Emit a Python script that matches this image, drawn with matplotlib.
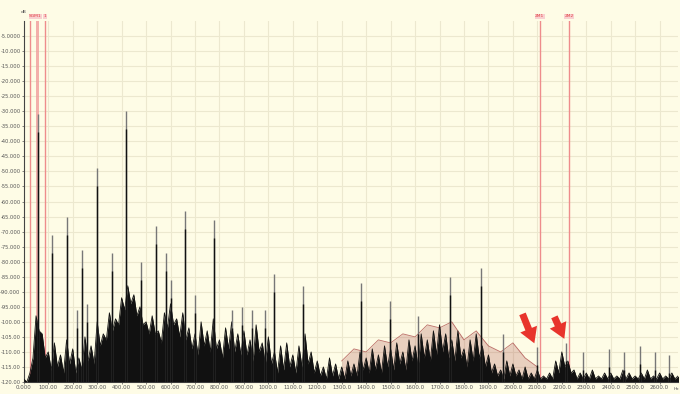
# Spectrum plot with marker lines and arrows

import numpy as np
import matplotlib.pyplot as plt

# noise floor tops (every 25 Hz)
noise_f = np.arange(0, 2700, 25)
noise_db = [
    -119, -117, -98, -104,
    -110, -107, -111, -106,
    -109, -112, -105, -108,
    -100, -104, -97, -99,
    -92, -88, -91, -95,
    -100, -98, -103, -97,
    -94, -99, -97, -102,
    -104, -100, -103, -99,
    -106, -102, -100, -104,
    -103, -106, -101, -107,
    -105, -110, -108, -107,
    -111, -108, -104, -110,
    -113, -115, -112, -114,
    -115, -113, -114, -110,
    -112, -109, -111, -108,
    -109, -107, -110, -106,
    -108, -104, -106, -103,
    -101, -104, -106, -103,
    -109, -106, -104, -108,
    -111, -114, -116, -113,
    -114, -116, -115, -117,
    -116, -118, -117, -113,
    -110, -113, -116, -117,
    -117, -116, -118, -117,
    -117, -118, -116, -117,
    -118, -117, -116, -118,
    -117, -118, -117, -118,
]
# noise floor valleys, half way between the tops
valley_f = noise_f + 12.5
valley_db = [
    -120, -112, -103, -112,
    -116, -115, -117, -114,
    -117, -116, -113, -114,
    -108, -106, -103, -101,
    -96, -94, -98, -101,
    -104, -104, -107, -102,
    -101, -105, -106, -109,
    -111, -108, -110, -109,
    -112, -109, -110, -111,
    -111, -113, -110, -114,
    -114, -117, -116, -115,
    -117, -115, -114, -117,
    -118, -119, -118, -119,
    -119, -118, -118, -116,
    -117, -116, -117, -115,
    -116, -114, -116, -113,
    -115, -112, -113, -111,
    -110, -112, -113, -112,
    -115, -113, -112, -115,
    -117, -118, -119, -118,
    -118, -119, -119, -119,
    -119, -119, -119, -117,
    -115, -117, -119, -119,
    -119, -119, -119, -119,
    -119, -119, -119, -119,
    -119, -119, -119, -119,
    -119, -119, -119, -119,
]

# second trace (red) visible above the black one
red_f = [1300, 1350, 1400, 1450, 1500, 1550, 1600, 1650, 1700, 1750, 1800, 1850, 1900, 1950, 2000, 2050, 2100]
red_db = [-113, -109, -110, -106, -107, -104, -105, -101, -102, -100, -106, -103, -108, -110, -107, -112, -115]

# discrete peaks (frequency, level)
peak_f = [57, 115, 178, 217, 237, 258, 298, 360, 417, 478, 540, 580, 601, 658, 699,
          777, 850, 893, 935, 985, 1022, 1141, 1378, 1497, 1612, 1742, 1869, 1960,
          2098, 2217, 2285, 2395, 2455, 2520, 2580, 2640]
peak_db = [-31, -71, -65, -96, -76, -94, -49, -77, -30, -80, -68, -77, -86, -63, -91,
           -66, -96, -95, -96, -96, -84, -88, -87, -93, -98, -85, -82, -104,
           -108.5, -107, -110, -109, -110, -108, -110, -111]

# marker lines
marker_f = [25, 86, 2110, 2230]
marker_labels = ['', '1', '2M1', '2M2']

x_ticks = np.arange(0, 2700, 100)
y_ticks = np.arange(-5, -121, -5)

bg = '#FEFCE6'
fig = plt.figure(figsize=(6.8, 3.94), dpi=100, facecolor=bg)
ax = fig.add_axes([0.035, 0.0305, 0.962, 0.916], facecolor=bg)

ax.set_xlim(0, 2675)
ax.set_ylim(-120, 0)

# grid
ax.set_xticks(x_ticks)
ax.set_yticks(y_ticks)
ax.grid(True, color='#ECE8CF', linewidth=0.8)
ax.set_axisbelow(True)

# thick marker band around the first group
ax.axvspan(50, 64, color='#F19C9C', alpha=0.8, lw=0)
for f, lab in zip(marker_f, marker_labels):
    ax.axvline(f, color='#EE8C8C', linewidth=1.0, zorder=1)
    if lab:
        ax.text(f, 1.0, lab, color='#E04040', fontsize=3.2, ha='center', va='bottom',
                bbox=dict(facecolor='#F9D0D0', edgecolor='none', pad=0.4))
ax.text(48, 1.0, 'SGM1', color='#E04040', fontsize=3.2, ha='center', va='bottom',
        bbox=dict(facecolor='#F9D0D0', edgecolor='none', pad=0.4))

# noise: interleave tops and valleys
nf = np.ravel(np.column_stack([noise_f, valley_f]))
nd = np.ravel(np.column_stack([noise_db, valley_db]))
ax.fill_between(red_f, -120, red_db, color='#9B3030', alpha=0.22, lw=0, zorder=2)
ax.plot(red_f, red_db, color='#A03535', lw=0.6, alpha=0.7, zorder=2)
ax.fill_between(nf, -120, nd, color='#111111', lw=0, zorder=3)
ax.plot(nf, nd, color='#111111', lw=0.6, zorder=3)

# peaks
ax.vlines(peak_f, -120, peak_db, color='#777777', linewidth=1.0, zorder=4)
ax.vlines(peak_f, -120, np.array(peak_db) - 6, color='#111111', linewidth=1.0, zorder=4)

# arrows
arrow_style = 'simple,head_width=1.3,head_length=1.1,tail_width=0.5'
ax.annotate('', xy=(2092, -108), xytext=(2035, -96.5),
            arrowprops=dict(arrowstyle=arrow_style, color='#E8342C', lw=0), zorder=6)
ax.annotate('', xy=(2215, -106.5), xytext=(2165, -97.5),
            arrowprops=dict(arrowstyle=arrow_style, color='#E8342C', lw=0), zorder=6)

# tick labels
def fmt(v):
    s = f'{v:.4f}' if abs(v) < 10 else (f'{v:.3f}' if abs(v) < 100 else f'{v:.2f}')
    return s
ax.set_yticklabels([fmt(v) for v in y_ticks])
ax.set_xticklabels(['0.000'] + [f'{v:.2f}' for v in x_ticks[1:10]] + [f'{v:.1f}' for v in x_ticks[10:]])
ax.tick_params(axis='y', labelsize=3.7, colors='#555555', length=1.5, width=0.5, pad=0.8)
ax.tick_params(axis='x', labelsize=3.9, colors='#555555', length=1.5, width=0.5, pad=1)
for s in ['top', 'right']:
    ax.spines[s].set_visible(False)
ax.spines['left'].set_color('#444444')
ax.spines['bottom'].set_color('#666666')
ax.text(0, 2.5, 'dB', fontsize=3.2, color='#555555', ha='center', va='bottom')
fig.text(0.998, 0.018, 'Hz', fontsize=3.2, color='#555555', ha='right', va='top')

plt.savefig('out.png', dpi=100, facecolor=bg)
